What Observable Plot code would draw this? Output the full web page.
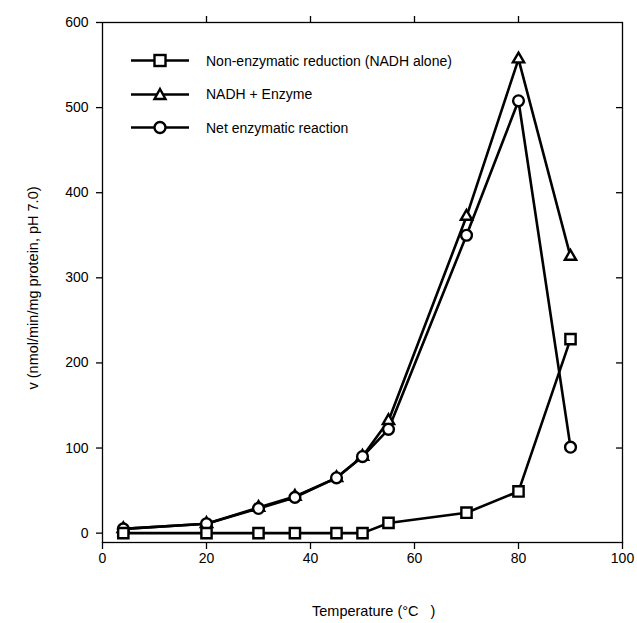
<!DOCTYPE html>
<html>
<head>
<meta charset="utf-8">
<script src="https://cdn.jsdelivr.net/npm/d3@7"></script>
<script src="https://cdn.jsdelivr.net/npm/@observablehq/plot@0.6"></script>
<style>
  body { margin: 0; background: #fff; }
  #wrap { position: relative; width: 637px; height: 623px; font-family: "Liberation Sans", Arial, Helvetica, sans-serif; }
  #legend { position: absolute; left: 130px; top: 44px; font-size: 14px; color: #000; }
  .row { display: flex; align-items: center; height: 33.5px; }
  .row svg { margin-right: 14px; }
  #xlabel { position: absolute; left: 312px; top: 603px; font-size: 14.5px; white-space: pre; }
  #ylabel { position: absolute; left: 33px; top: 288px; font-size: 14.5px; white-space: pre; transform: translate(-50%, -50%) rotate(-90deg); }
</style>
</head>
<body>
<div id="wrap"></div>
<script>
const temps = [4, 20, 30, 37, 45, 50, 55, 70, 80, 90];
const nonEnzymatic = [0, 0, 0, 0, 0, 0, 12, 24, 49, 228];
const nadhEnzyme = [5, 11, 30, 43, 65, 90, 132, 372, 557, 325];
const netEnzymatic = [5, 11, 29, 42, 65, 90, 122, 350, 508, 101];
const seriesNames = ["Non-enzymatic reduction (NADH alone)", "NADH + Enzyme", "Net enzymatic reaction"];
const seriesSymbols = ["square", "triangle", "circle"];
const xTicks = [0, 20, 40, 60, 80, 100];
const yTicks = [0, 100, 200, 300, 400, 500, 600];

const rows = (vals) => temps.map((t, i) => ({t, v: vals[i]}));
const sq = rows(nonEnzymatic), tri = rows(nadhEnzyme), cir = rows(netEnzymatic);

const font = '"Liberation Sans", Arial, Helvetica, sans-serif';
const chart = Plot.plot({
  width: 637,
  height: 623,
  marginLeft: 102,
  marginRight: 15,
  marginTop: 22,
  marginBottom: 81,
  style: {fontFamily: font, fontSize: "14px", color: "#000", background: "#fff"},
  x: {domain: [0, 100]},
  y: {domain: [-11, 600]},
  marks: [
    Plot.frame({stroke: "#000", strokeWidth: 1.3}),
    Plot.axisX({ticks: xTicks, tickSize: 7, tickPadding: 4, fontSize: 14, label: null, strokeWidth: 1.3}),
    Plot.axisX({anchor: "top", ticks: [20, 40, 60, 80], tickSize: 7, tickFormat: () => "", label: null, strokeWidth: 1.3}),
    Plot.axisY({ticks: yTicks, tickSize: 6, tickPadding: 8, fontSize: 14, label: null, strokeWidth: 1.3}),
    Plot.axisY({anchor: "right", ticks: [100, 200, 300, 400, 500], tickSize: -7, tickFormat: () => "", label: null, strokeWidth: 1.3}),
    Plot.line(sq, {x: "t", y: "v", stroke: "#000", strokeWidth: 2.6}),
    Plot.line(tri, {x: "t", y: "v", stroke: "#000", strokeWidth: 2.6}),
    Plot.line(cir, {x: "t", y: "v", stroke: "#000", strokeWidth: 2.6}),
    Plot.dot(tri, {x: "t", y: "v", symbol: "triangle", r: 4.2, fill: "#fff", stroke: "#000", strokeWidth: 2.4}),
    Plot.dot(cir, {x: "t", y: "v", symbol: "circle", r: 5.4, fill: "#fff", stroke: "#000", strokeWidth: 2.4}),
    Plot.dot(sq, {x: "t", y: "v", symbol: "square", r: 5.8, fill: "#fff", stroke: "#000", strokeWidth: 2.4})
  ]
});

const wrap = document.getElementById("wrap");
wrap.appendChild(chart);

// Legend
const legend = document.createElement("div");
legend.id = "legend";
const iconFor = (sym) => {
  let m = "";
  if (sym === "square") m = '<rect x="24.5" y="6" width="11" height="11" fill="#fff" stroke="#000" stroke-width="2.4"/>';
  if (sym === "triangle") m = '<path d="M30,6 L35.5,16 L24.5,16 Z" fill="#fff" stroke="#000" stroke-width="2.4"/>';
  if (sym === "circle") m = '<circle cx="30" cy="11.5" r="5.5" fill="#fff" stroke="#000" stroke-width="2.4"/>';
  return `<svg width="62" height="23"><line x1="1" x2="59" y1="11.5" y2="11.5" stroke="#000" stroke-width="2.6"/>${m}</svg>`;
};
seriesNames.forEach((name, i) => {
  const r = document.createElement("div");
  r.className = "row";
  r.innerHTML = iconFor(seriesSymbols[i]) + `<span>${name}</span>`;
  legend.appendChild(r);
});
wrap.appendChild(legend);

const xl = document.createElement("div");
xl.id = "xlabel";
xl.textContent = "Temperature (°C   )";
wrap.appendChild(xl);

const yl = document.createElement("div");
yl.id = "ylabel";
yl.textContent = "v (nmol/min/mg protein, pH 7.0)";
wrap.appendChild(yl);
</script>
</body>
</html>
